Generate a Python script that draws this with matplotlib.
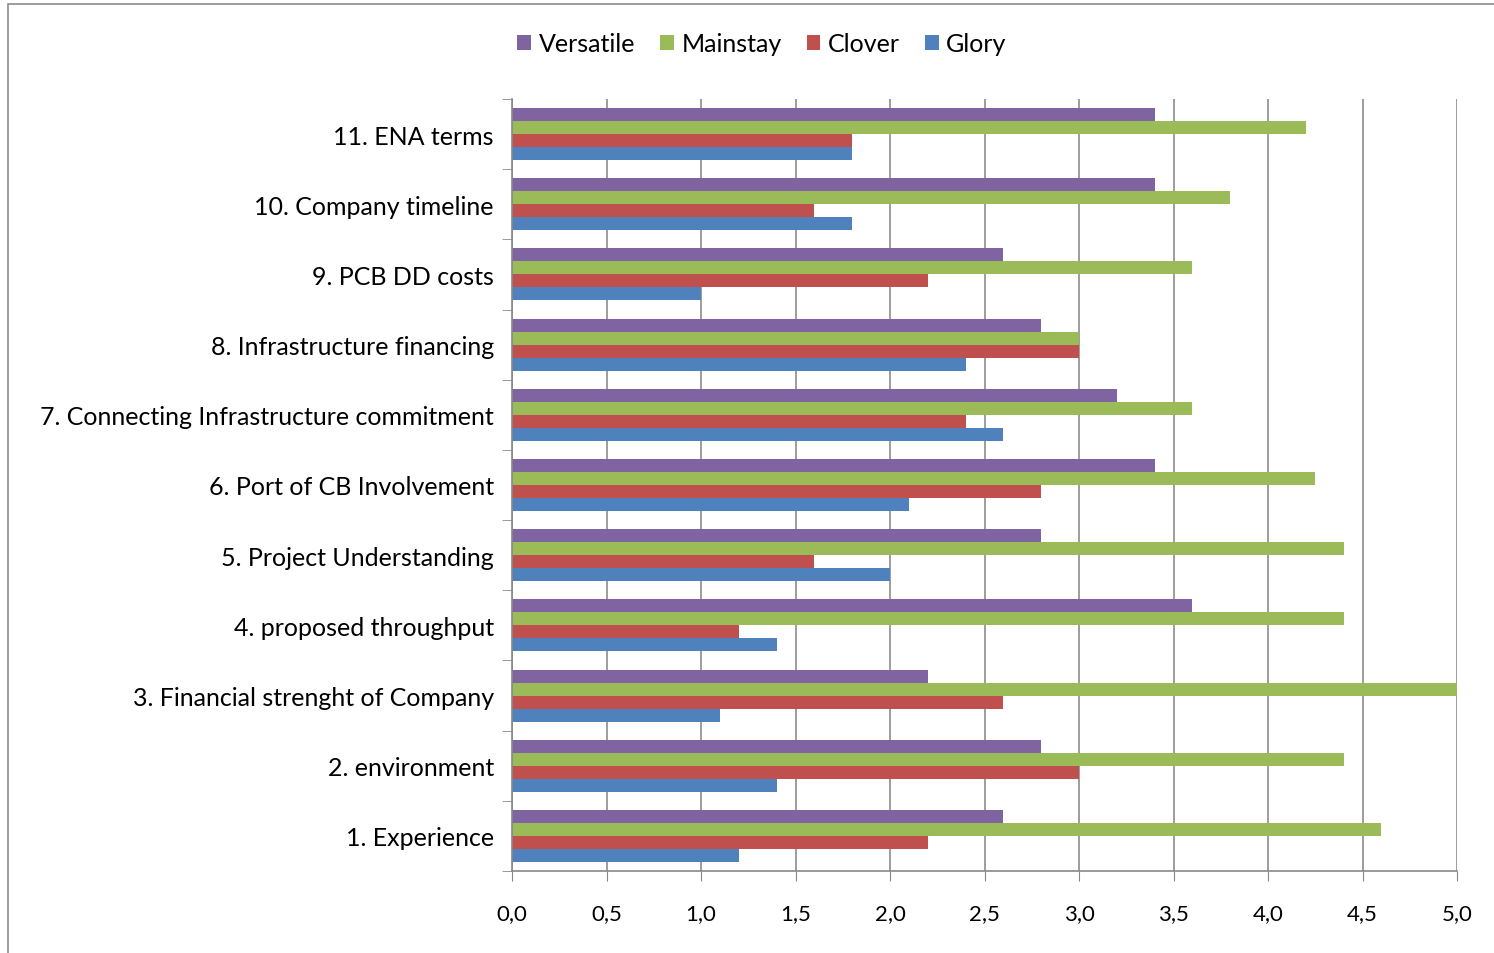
import numpy as np
import matplotlib
matplotlib.use("Agg")
import matplotlib.pyplot as plt
from matplotlib.patches import Rectangle

plt.rcParams['font.family'] = ['Lato', 'DejaVu Sans']

categories = [
    '1. Experience', '2. environment', '3. Financial strenght of Company',
    '4. proposed throughput', '5. Project Understanding',
    '6. Port of CB Involvement', '7. Connecting Infrastructure commitment',
    '8. Infrastructure financing', '9. PCB DD costs', '10. Company timeline',
    '11. ENA terms',
]
# series listed bottom-to-top within each group (Excel draws first series lowest)
glory = [1.2, 1.4, 1.1, 1.4, 2.0, 2.1, 2.6, 2.4, 1.0, 1.8, 1.8]
clover = [2.2, 3.0, 2.6, 1.2, 1.6, 2.8, 2.4, 3.0, 2.2, 1.6, 1.8]
mainstay = [4.6, 4.4, 5.0, 4.4, 4.4, 4.25, 3.6, 3.0, 3.6, 3.8, 4.2]
versatile = [2.6, 2.8, 2.2, 3.6, 2.8, 3.4, 3.2, 2.8, 2.6, 3.4, 3.4]
xticks = [0.0, 0.5, 1.0, 1.5, 2.0, 2.5, 3.0, 3.5, 4.0, 4.5, 5.0]

series = [('Glory', glory, '#4F81BD'), ('Clover', clover, '#C0504D'),
          ('Mainstay', mainstay, '#9BBB59'), ('Versatile', versatile, '#8064A2')]

fig = plt.figure(figsize=(14.94, 9.54), dpi=100)
# chart frame
fig.patches.append(Rectangle((8 / 1494, -0.05), 1.1, 1 - 5 / 954 + 0.05,
                             transform=fig.transFigure, fill=False,
                             edgecolor='#8c8c8c', linewidth=1.2))

ax = fig.add_axes([512 / 1494, 1 - 872 / 954, 945 / 1494, 772 / 954])
y = np.arange(len(categories))
h = 0.185
handles = []
for i, (name, vals, col) in enumerate(series):
    b = ax.barh(y + (i - 1.5) * h, vals, height=h, color=col, zorder=2, label=name)
    handles.append(b)

ax.set_xlim(0, 5.0)
ax.set_ylim(-0.5, len(categories) - 0.5)
ax.set_xticks(xticks)
ax.set_xticklabels([f'{v:.1f}'.replace('.', ',') for v in xticks], fontsize=16)
ax.set_yticks(y)
ax.set_yticklabels(categories, fontsize=18)
ax.set_yticks(np.arange(len(categories) + 1) - 0.5, minor=True)
ax.tick_params(axis='y', which='major', length=0, pad=13)
ax.tick_params(axis='y', which='minor', length=7, color='#888888', direction='out')
ax.tick_params(axis='x', length=7, color='#888888', direction='out', pad=16)
ax.xaxis.grid(True, color='#8c8c8c', linewidth=1.2, zorder=0)
ax.set_axisbelow(True)
for s in ['top', 'right']:
    ax.spines[s].set_visible(False)
for s in ['left', 'bottom']:
    ax.spines[s].set_color('#888888')
    ax.spines[s].set_linewidth(1.2)

fig.legend(handles=handles[::-1], loc='center', bbox_to_anchor=(762 / 1494, 1 - 45 / 954),
           ncol=4, frameon=False, fontsize=18, handlelength=0.55, handleheight=0.55,
           handletextpad=0.3, columnspacing=1.0)

fig.savefig('out.png', dpi=100)
